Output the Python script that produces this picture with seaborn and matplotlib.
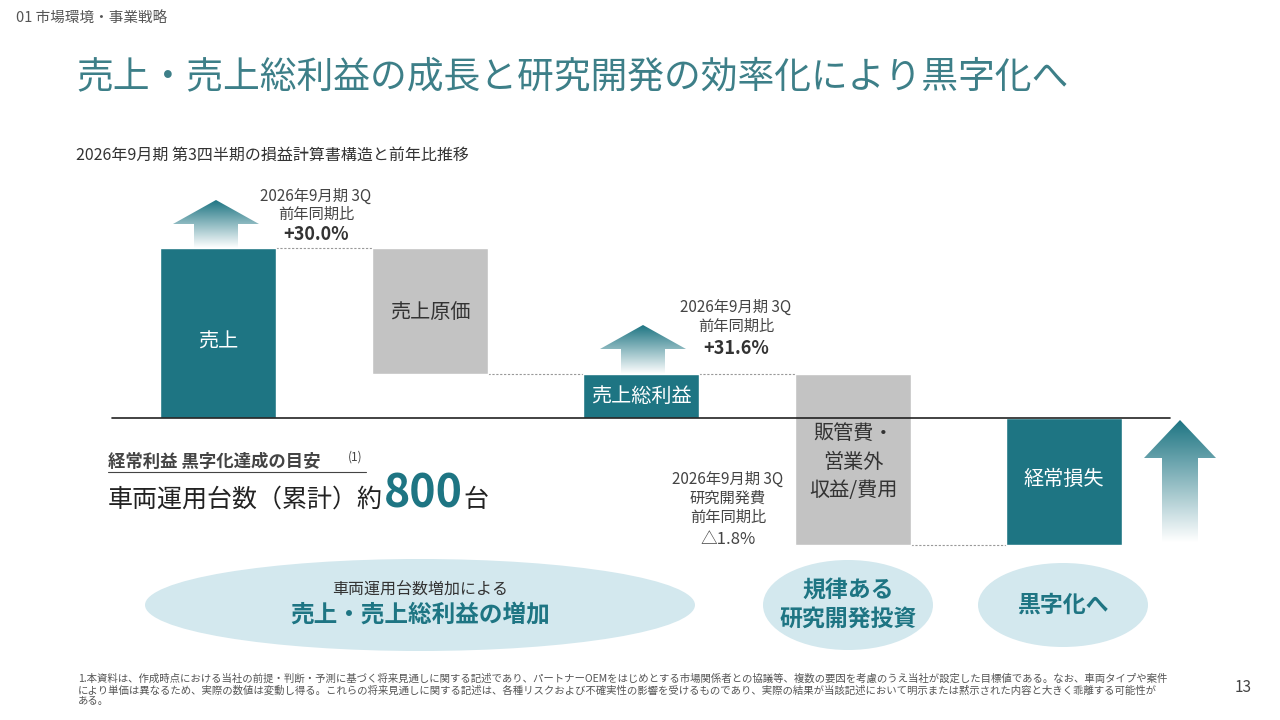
import numpy as np
import pandas as pd
import seaborn as sns
import matplotlib
matplotlib.use("Agg")
import matplotlib.pyplot as plt
from matplotlib.patches import Polygon, Ellipse

sns.set_theme(style="white")
plt.rcParams['font.family'] = ['Noto Sans CJK JP', 'DejaVu Sans']

# data (waterfall, in px-like units above baseline)
categories = ["売上", "売上原価", "売上総利益", "販管費・\n営業外\n収益/費用", "経常損失"]
values = [170, -126, 44, -171, -127]
kinds = ["total", "delta", "total", "delta", "total"]
TEAL = "#1e7583"; GRAY = "#c3c3c3"; LB = "#d3e8ee"

fig = plt.figure(figsize=(12.8, 7.2), dpi=100)
ax = fig.add_axes([0, 0, 1, 1])
ax.set_xlim(0, 1280); ax.set_ylim(720, 0); ax.axis("off")
BASE = 418
xs = [218, 430, 641, 853, 1064]; W = 116

cum = 0
for i, (c, v, k) in enumerate(zip(categories, values, kinds)):
    if k == "total":
        start, end = 0, v
        cum = v
    else:
        start, end = cum, cum + v
        cum = cum + v
    lo, hi = min(start, end), max(start, end)
    ax.bar(xs[i], -(hi - lo), bottom=BASE - lo, width=W,
           color=TEAL if k == "total" else GRAY, zorder=3)
conn = [(0, 1, 170), (1, 2, 44), (2, 3, 44), (3, 4, -127)]
for a, b, lv in conn:
    ax.plot([xs[a] + W/2, xs[b] - W/2], [BASE - lv]*2, ls=(0, (2, 1.5)), color="#999999", lw=0.8)
ax.plot([112, 1170], [BASE, BASE], color="#222222", lw=1.2, zorder=4)

lbl_y = [342, 313, 396, 462, 479]
for i, c in enumerate(categories):
    col = "white" if kinds[i] == "total" else "#333333"
    ax.text(xs[i], lbl_y[i], c, ha="center", va="center", fontsize=14.5, color=col, zorder=5, linespacing=1.45)

def grad_arrow(cx, ytop, ybot, hw, sw, headh):
    pts = [(cx, ytop), (cx+hw, ytop+headh), (cx+sw, ytop+headh), (cx+sw, ybot),
           (cx-sw, ybot), (cx-sw, ytop+headh), (cx-hw, ytop+headh)]
    poly = Polygon(pts, closed=True, facecolor="none", edgecolor="none")
    ax.add_patch(poly)
    g = np.linspace(0, 1, 256).reshape(-1, 1)
    cmap = matplotlib.colors.LinearSegmentedColormap.from_list("g", [TEAL, "#ffffff"])
    im = ax.imshow(g, cmap=cmap, extent=[cx-hw, cx+hw, ybot, ytop], aspect="auto", zorder=2)
    im.set_clip_path(poly)
grad_arrow(216, 200, 248, 43, 22, 24)
grad_arrow(643, 325, 374, 43, 22, 24)
grad_arrow(1180, 420, 542, 36, 18, 38)
ax.set_xlim(0, 1280); ax.set_ylim(720, 0)

ax.text(316, 196, "2026年9月期 3Q", ha="center", va="center", fontsize=11, color="#444")
ax.text(316, 214, "前年同期比", ha="center", va="center", fontsize=11, color="#444")
ax.text(316, 235, "+30.0%", ha="center", va="center", fontsize=13, color="#333", fontweight="bold")
ax.text(736, 307, "2026年9月期 3Q", ha="center", va="center", fontsize=11, color="#444")
ax.text(736, 326, "前年同期比", ha="center", va="center", fontsize=11, color="#444")
ax.text(736, 348, "+31.6%", ha="center", va="center", fontsize=13, color="#333", fontweight="bold")
for t, y in [("2026年9月期 3Q", 479), ("研究開発費", 498), ("前年同期比", 517), ("△1.8%", 539)]:
    ax.text(728, y, t, ha="center", va="center", fontsize=11 if y < 530 else 12, color="#444")

ax.text(108, 462, "経常利益 黒字化達成の目安", ha="left", va="center", fontsize=12.5, fontweight="bold", color="#444")
ax.text(348, 457, "(1)", ha="left", va="center", fontsize=8.5, color="#444")
ax.plot([108, 366], [472, 472], color="#444", lw=0.8)
ax.text(108, 500, "車両運用台数（累計）約", ha="left", va="center", fontsize=18, color="#222")
ax.text(384, 495, "800", ha="left", va="center", fontsize=32, fontweight="bold", color=TEAL)
ax.text(463, 500, "台", ha="left", va="center", fontsize=18, color="#222")

for (cx, cy, w, h) in [(420, 605, 550, 92), (848, 605, 170, 90), (1063, 605, 170, 84)]:
    ax.add_patch(Ellipse((cx, cy), w, h, facecolor=LB, edgecolor="none"))
ax.text(420, 590, "車両運用台数増加による", ha="center", va="center", fontsize=11.5, color="#333")
ax.text(420, 615, "売上・売上総利益の増加", ha="center", va="center", fontsize=17, color=TEAL, fontweight="bold")
ax.text(848, 605, "規律ある\n研究開発投資", ha="center", va="center", fontsize=16.5, color=TEAL, fontweight="bold", linespacing=1.3)
ax.text(1063, 605, "黒字化へ", ha="center", va="center", fontsize=16.5, color=TEAL, fontweight="bold")

ax.text(16, 19, "01 市場環境・事業戦略", ha="left", va="center", fontsize=10.5, color="#555")
ax.text(76, 77, "売上・売上総利益の成長と研究開発の効率化により黒字化へ", ha="left", va="center", fontsize=26.5, color="#3d7f88")
ax.text(76, 155, "2026年9月期 第3四半期の損益計算書構造と前年比推移", ha="left", va="center", fontsize=11.5, color="#333")
ax.text(1252, 688, "13", ha="right", va="center", fontsize=11, color="#444")
foot = ("1.本資料は、作成時点における当社の前提・判断・予測に基づく将来見通しに関する記述であり、パートナーOEMをはじめとする市場関係者との協議等、複数の要因を考慮のうえ当社が設定した目標値である。なお、車両タイプや案件\n"
        "により単価は異なるため、実際の数値は変動し得る。これらの将来見通しに関する記述は、各種リスクおよび不確実性の影響を受けるものであり、実際の結果が当該記述において明示または黙示された内容と大きく乖離する可能性が\n"
        "ある。")
ax.text(78, 690, foot, ha="left", va="center", fontsize=7.5, color="#555", linespacing=1.1)

fig.savefig("out.png", dpi=100)
